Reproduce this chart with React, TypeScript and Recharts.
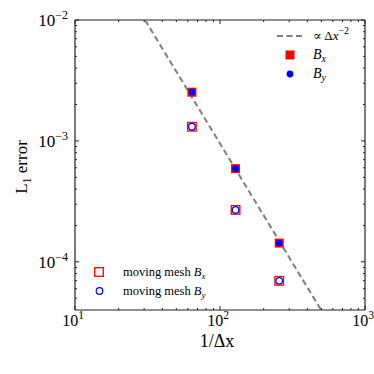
import { ScatterChart, Scatter, XAxis, YAxis } from 'recharts'

// grid resolution 1/dx and L1 errors
const resolution = [64, 128, 256]
const errBx = [2.53e-3, 5.9e-4, 1.43e-4]
const errBy = [2.53e-3, 5.9e-4, 1.43e-4]
const errMovingBx = [1.31e-3, 2.69e-4, 6.97e-5]
const errMovingBy = [1.31e-3, 2.69e-4, 6.97e-5]

// ~ dx^-2 guide line end points
const refX = [30.4, 498]
const refY = [1.0e-2, 4.0e-5]

const xMajor = [10, 100, 1000]
const xMinor = [20, 30, 40, 50, 60, 70, 80, 90, 200, 300, 400, 500, 600, 700, 800, 900]
const yMajor = [1e-4, 1e-3, 1e-2]
const yMinor = [5e-5, 6e-5, 7e-5, 8e-5, 9e-5, 2e-4, 3e-4, 4e-4, 5e-4, 6e-4, 7e-4, 8e-4, 9e-4,
  2e-3, 3e-3, 4e-3, 5e-3, 6e-3, 7e-3, 8e-3, 9e-3]

const zip = (xs: number[], ys: number[]) => xs.map((x, i) => ({ x, y: ys[i] }))

const FONT = '"Liberation Serif", "DejaVu Serif", serif'
const RED = '#ff0000'
const BLUE = '#0000ff'
const AXIS = '#222'

const isMajor = (list: number[], v: number) => list.some(m => Math.abs(m - v) / m < 1e-6)
const expOf = (v: number) => {
  const e = Math.round(Math.log10(v))
  return e < 0 ? '\u2212' + Math.abs(e) : String(e)
}

const XTick = (props: any) => {
  const { x, y, payload, side } = props
  const major = isMajor(xMajor, payload.value)
  const len = major ? 4 : 2
  const dir = side === 'top' ? 1 : -1
  return (
    <g>
      <line x1={x} x2={x} y1={y} y2={y + dir * len} stroke={AXIS} strokeWidth={1} />
      {major && side !== 'top' && (
        <text x={x - 2} y={y + 16} textAnchor="middle" fontFamily={FONT} fontSize={16} fill="#000">
          10<tspan dy={-7} fontSize={11.5}>{expOf(payload.value)}</tspan>
        </text>
      )}
    </g>
  )
}

const YTick = (props: any) => {
  const { x, y, payload, side } = props
  const major = isMajor(yMajor, payload.value)
  const len = major ? 4 : 2
  const dir = side === 'right' ? -1 : 1
  return (
    <g>
      <line x1={x} x2={x + dir * len} y1={y} y2={y} stroke={AXIS} strokeWidth={1} />
      {major && side !== 'right' && (
        <text x={x - 7} y={y + 6} textAnchor="end" fontFamily={FONT} fontSize={17} fill="#000">
          10<tspan dy={-7} fontSize={12}>{expOf(payload.value)}</tspan>
        </text>
      )}
    </g>
  )
}

const FilledSquare = (p: any) => <rect x={p.cx - 4.5} y={p.cy - 4.5} width={9} height={9} fill={RED} />
const FilledCircle = (p: any) => <circle cx={p.cx} cy={p.cy} r={3.4} fill={BLUE} />
const OpenSquare = (p: any) => (
  <rect x={p.cx - 4.3} y={p.cy - 4.3} width={8.6} height={8.6} fill="none" stroke={RED} strokeWidth={1.3} />
)
const OpenCircle = (p: any) => (
  <circle cx={p.cx} cy={p.cy} r={3.3} fill="#fff" stroke={BLUE} strokeWidth={1.2} />
)
const NoDot = () => <g />

export default function App() {
  const ticksX = [...xMajor, ...xMinor].sort((a, b) => a - b)
  const ticksY = [...yMajor, ...yMinor].sort((a, b) => a - b)

  return (
    <div style={{ position: 'absolute', left: 0, top: 0, width: 374, height: 374, background: '#fff' }}>
      <ScatterChart width={374} height={374} margin={{ top: 19, right: 8, bottom: 63, left: 74 }}>
        <XAxis xAxisId="b" type="number" dataKey="x" scale="log" domain={[10, 1000]} allowDataOverflow
          ticks={ticksX} interval={0} height={1} tickSize={0} tickMargin={0}
          stroke={AXIS} strokeWidth={1.2} tick={<XTick side="bottom" />} />
        <XAxis xAxisId="t" orientation="top" type="number" dataKey="x" scale="log" domain={[10, 1000]} allowDataOverflow
          ticks={ticksX} interval={0} height={1} tickSize={0} tickMargin={0}
          stroke={AXIS} strokeWidth={1.2} tick={<XTick side="top" />} />
        <YAxis yAxisId="l" type="number" dataKey="y" scale="log" domain={[4e-5, 1e-2]} allowDataOverflow
          ticks={ticksY} interval={0} width={1} tickSize={0} tickMargin={0}
          stroke={AXIS} strokeWidth={1.2} tick={<YTick side="left" />} />
        <YAxis yAxisId="r" orientation="right" type="number" dataKey="y" scale="log" domain={[4e-5, 1e-2]} allowDataOverflow
          ticks={ticksY} interval={0} width={1} tickSize={0} tickMargin={0}
          stroke={AXIS} strokeWidth={1.2} tick={<YTick side="right" />} />

        <Scatter xAxisId="b" yAxisId="l" data={zip(refX, refY)} shape={<NoDot />}
          line={{ stroke: '#7f7f7f', strokeWidth: 2, strokeDasharray: '6 3.5' }} isAnimationActive={false} />
        <Scatter xAxisId="b" yAxisId="l" data={zip(resolution, errBx)} shape={<FilledSquare />} isAnimationActive={false} />
        <Scatter xAxisId="b" yAxisId="l" data={zip(resolution, errBy)} shape={<FilledCircle />} isAnimationActive={false} />
        <Scatter xAxisId="b" yAxisId="l" data={zip(resolution, errMovingBx)} shape={<OpenSquare />} isAnimationActive={false} />
        <Scatter xAxisId="b" yAxisId="l" data={zip(resolution, errMovingBy)} shape={<OpenCircle />} isAnimationActive={false} />
      </ScatterChart>

      <svg width={374} height={374} style={{ position: 'absolute', left: 0, top: 0, pointerEvents: 'none' }}
        fontFamily={FONT}>
        {/* axis titles */}
        <text x={217} y={347} textAnchor="middle" fontSize={18} fill="#000">1/Δx</text>
        <text transform="translate(27,167) rotate(-90)" textAnchor="middle" fontSize={17} fill="#000">
          L<tspan dy={4} fontSize={12}>1</tspan><tspan dy={-4}> error</tspan>
        </text>

        {/* upper-right legend */}
        <line x1={277} x2={303} y1={36} y2={36} stroke="#7f7f7f" strokeWidth={2} strokeDasharray="6 3.5" />
        <text x={313} y={40} fontSize={13} fill="#000">
          ∝ Δ<tspan fontStyle="italic">x</tspan><tspan dy={-6} fontSize={10}>−2</tspan>
        </text>
        <rect x={285.5} y={50.5} width={9} height={9} fill={RED} />
        <text x={313} y={59} fontSize={14} fontStyle="italic" fill="#000">
          B<tspan dy={3} fontSize={10}>x</tspan>
        </text>
        <circle cx={290} cy={74} r={3.4} fill={BLUE} />
        <text x={313} y={78} fontSize={14} fontStyle="italic" fill="#000">
          B<tspan dy={3} fontSize={10}>y</tspan>
        </text>

        {/* lower-left legend */}
        <rect x={94.7} y={267.7} width={8.6} height={8.6} fill="none" stroke={RED} strokeWidth={1.3} />
        <text x={123} y={276} fontSize={12.5} fill="#000">
          moving mesh <tspan fontStyle="italic">B</tspan><tspan dy={3} fontSize={9} fontStyle="italic">x</tspan>
        </text>
        <circle cx={99.5} cy={291} r={3.3} fill="#fff" stroke={BLUE} strokeWidth={1.2} />
        <text x={123} y={295} fontSize={12.5} fill="#000">
          moving mesh <tspan fontStyle="italic">B</tspan><tspan dy={3} fontSize={9} fontStyle="italic">y</tspan>
        </text>
      </svg>
    </div>
  )
}
